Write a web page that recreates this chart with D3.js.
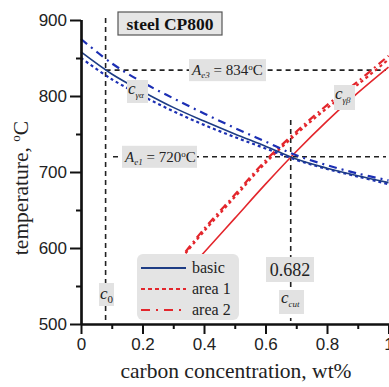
<!DOCTYPE html>
<html>
<head>
<meta charset="utf-8">
<script src="https://cdn.jsdelivr.net/npm/d3@7"></script>
<style>
  html, body { margin: 0; padding: 0; background: #fff; }
  svg { display: block; }
</style>
</head>
<body>
<div id="chart"></div>
<script>
// chart data
const ferriteC = [0, 0.1, 0.2, 0.3, 0.4, 0.5, 0.6, 0.7, 0.8, 0.9, 1.0];
const ferriteBasic = [858, 829, 806, 785, 767, 750, 734, 717, 705, 695, 686];
const ferriteArea1 = [850, 822, 800, 780, 762, 746, 731, 716, 704, 694, 684];
const ferriteArea2 = [875, 843, 818, 797, 777, 758, 740, 722, 709, 698, 689];

const bainiteBasicC = [0.3, 0.4, 0.5, 0.6, 0.7, 0.8, 0.9, 1.0];
const bainiteBasic = [550, 594, 639, 684, 727, 767, 804, 838];
const bainiteAreaC = [0.34, 0.4, 0.5, 0.6, 0.7, 0.8, 0.9, 1.0];
const bainiteArea1 = [593, 622, 667, 712, 750, 784, 815, 848];
const bainiteArea2 = [595, 625, 670, 715, 753, 788, 819, 853];

const xTicks = [0, 0.2, 0.4, 0.6, 0.8, 1];
const xMinor = [0.1, 0.3, 0.5, 0.7, 0.9];
const yTicks = [500, 600, 700, 800, 900];
const yMinor = [550, 650, 750, 850];

const c0 = 0.08, cCut = 0.682, Ae3 = 834, Ae1 = 720;

const W = 389, H = 387;
const x = d3.scaleLinear().domain([0, 1]).range([81, 388.5]);
const y = d3.scaleLinear().domain([500, 900]).range([324, 20]);

const svg = d3.select("#chart").append("svg").attr("width", W).attr("height", H);
svg.append("rect").attr("width", W).attr("height", H).attr("fill", "#fff");

const serif = "'Liberation Serif', 'DejaVu Serif', serif";
const sans = "'Liberation Sans', Arial, sans-serif";
const BLUE = "#1d3c84", BLUE2 = "#1c2fb4", RED = "#e3262c";

// reference dashed lines
const refDash = "5,4";
svg.append("line").attr("x1", x(c0)).attr("x2", x(c0)).attr("y1", 18).attr("y2", 321)
  .attr("stroke", "#222").attr("stroke-width", 1.6).attr("stroke-dasharray", refDash);
svg.append("line").attr("x1", x(cCut)).attr("x2", x(cCut)).attr("y1", 120).attr("y2", 321)
  .attr("stroke", "#222").attr("stroke-width", 1.6).attr("stroke-dasharray", refDash);
svg.append("line").attr("x1", x(c0)).attr("x2", 386).attr("y1", y(Ae3)).attr("y2", y(Ae3))
  .attr("stroke", "#222").attr("stroke-width", 1.6).attr("stroke-dasharray", refDash);
svg.append("line").attr("x1", 113).attr("x2", 386).attr("y1", y(Ae1)).attr("y2", y(Ae1))
  .attr("stroke", "#222").attr("stroke-width", 1.6).attr("stroke-dasharray", refDash);

// curves
const line = d3.line().x(d => x(d[0])).y(d => y(d[1])).curve(d3.curveCatmullRom);
const series = [
  {c: bainiteAreaC, t: bainiteArea1, color: RED, dash: "3,3", w: 2.2},
  {c: bainiteAreaC, t: bainiteArea2, color: RED, dash: "8,4,2,4", w: 2.2},
  {c: bainiteBasicC, t: bainiteBasic, color: RED, dash: null, w: 1.6},
  {c: ferriteC, t: ferriteArea1, color: BLUE2, dash: "3,3", w: 2.2},
  {c: ferriteC, t: ferriteArea2, color: BLUE2, dash: "8,5,2,5", w: 2.2},
  {c: ferriteC, t: ferriteBasic, color: BLUE, dash: null, w: 1.6}
];
svg.append("g").selectAll("path").data(series).join("path")
  .attr("d", s => line(s.c.map((c, i) => [c, s.t[i]])))
  .attr("fill", "none")
  .attr("stroke", s => s.color)
  .attr("stroke-width", s => s.w)
  .attr("stroke-dasharray", s => s.dash);

// gray label boxes
function box(x0, y0, w, h) {
  svg.append("rect").attr("x", x0).attr("y", y0).attr("width", w).attr("height", h).attr("fill", "#e2e2e2");
}
function sub(g, main, subText, size, subSize, subItalic = true) {
  const t = g.append("text").attr("font-family", serif).attr("font-size", size).attr("fill", "#222");
  t.append("tspan").attr("font-style", "italic").text(main);
  t.append("tspan").attr("font-style", subItalic ? "italic" : "normal").attr("font-size", subSize).attr("dy", 4).text(subText);
  return t;
}

// c0
box(99, 283, 15, 23);
sub(svg.append("g").attr("transform", "translate(100,299)"), "c", "0", 17, 11, false);
// c_cut
box(279, 290, 25, 24);
sub(svg.append("g").attr("transform", "translate(281,303)"), "c", "cut", 17, 9);
// 0.682
box(266, 257, 48, 25);
svg.append("text").attr("x", 290).attr("y", 276).attr("text-anchor", "middle")
  .attr("font-family", serif).attr("font-size", 18).attr("fill", "#222").text(cCut.toFixed(3));
// c_γα
box(127, 80, 21, 23);
sub(svg.append("g").attr("transform", "translate(128,94)"), "c", "γα", 17, 9);
// c_γβ
box(334, 85, 21, 25);
sub(svg.append("g").attr("transform", "translate(335,99)"), "c", "γβ", 17, 9);

// A_e3 / A_e1 labels
function aLabel(x0, y0, w, subText, val) {
  box(x0, y0 - 11, w, 22);
  const t = svg.append("text").attr("x", x0 + 3).attr("y", y0 + 5)
    .attr("font-family", serif).attr("font-size", 15).attr("fill", "#222");
  t.append("tspan").attr("font-style", "italic").text("A");
  t.append("tspan").attr("font-style", "italic").attr("font-size", 9).attr("dy", 3).text(subText);
  t.append("tspan").attr("dy", -3).text(" = " + val);
  t.append("tspan").attr("font-size", 9).attr("dy", -5).text("o");
  t.append("tspan").attr("dy", 5).text("C");
}
aLabel(189, y(Ae3), 77, "e3", Ae3);
aLabel(122, y(Ae1), 75, "e1", Ae1);

// title
svg.append("rect").attr("x", 118).attr("y", 12).attr("width", 104).attr("height", 23)
  .attr("fill", "#e6e6e6").attr("stroke", "#555").attr("stroke-width", 1.2);
svg.append("text").attr("x", 170).attr("y", 29.5).attr("text-anchor", "middle")
  .attr("font-family", serif).attr("font-size", 17.5).attr("font-weight", "bold").attr("fill", "#111")
  .text("steel CP800");

// legend
const legend = [
  {label: "basic", color: BLUE, dash: null},
  {label: "area 1", color: RED, dash: "4,3"},
  {label: "area 2", color: RED, dash: "9,6,2,6"}
];
svg.append("rect").attr("x", 137).attr("y", 254).attr("width", 102).attr("height", 66)
  .attr("rx", 6).attr("fill", "#e4e4e4");
const lg = svg.append("g").selectAll("g").data(legend).join("g")
  .attr("transform", (d, i) => `translate(141,${268 + i * 21})`);
lg.append("line").attr("x1", 0).attr("x2", 45).attr("stroke", d => d.color)
  .attr("stroke-width", 2.2).attr("stroke-dasharray", d => d.dash);
lg.append("text").attr("x", 51).attr("y", 5).attr("font-family", serif).attr("font-size", 16)
  .attr("fill", "#222").text(d => d.label);

// axes
svg.append("g").attr("transform", "translate(0,324)")
  .call(d3.axisBottom(x).tickValues(xTicks).tickSize(10).tickPadding(4).tickFormat(d3.format("")));
svg.append("g").attr("transform", "translate(0,324)")
  .call(d3.axisBottom(x).tickValues(xMinor).tickSize(5).tickFormat(""));
svg.append("g").attr("transform", "translate(81,0)")
  .call(d3.axisLeft(y).tickValues(yTicks).tickSize(11).tickPadding(3));
svg.append("g").attr("transform", "translate(81,0)")
  .call(d3.axisLeft(y).tickValues(yMinor).tickSize(5).tickFormat(""));
svg.selectAll(".domain").attr("stroke", "#111").attr("stroke-width", 2.2);
svg.selectAll(".tick line").attr("stroke", "#111").attr("stroke-width", 2);
svg.selectAll(".tick text").attr("font-family", sans).attr("font-size", 17).attr("fill", "#222");
// plain axis lines without the end stubs
svg.selectAll(".domain").attr("d", function () {
  const p = d3.select(this.parentNode).attr("transform");
  return p.includes("324") ? "M81,0.5H389" : "M0.5,20V324";
});

// axis titles
svg.append("text").attr("x", 236).attr("y", 378).attr("text-anchor", "middle")
  .attr("font-family", serif).attr("font-size", 21.5).attr("fill", "#222")
  .text("carbon concentration, wt%");
const yt = svg.append("text").attr("transform", "translate(28,188) rotate(-90)").attr("text-anchor", "middle")
  .attr("font-family", serif).attr("font-size", 21.5).attr("fill", "#222");
yt.append("tspan").text("temperature, ");
yt.append("tspan").attr("font-size", 13).attr("dy", -8).text("o");
yt.append("tspan").attr("dy", 8).text("C");
</script>
</body>
</html>
